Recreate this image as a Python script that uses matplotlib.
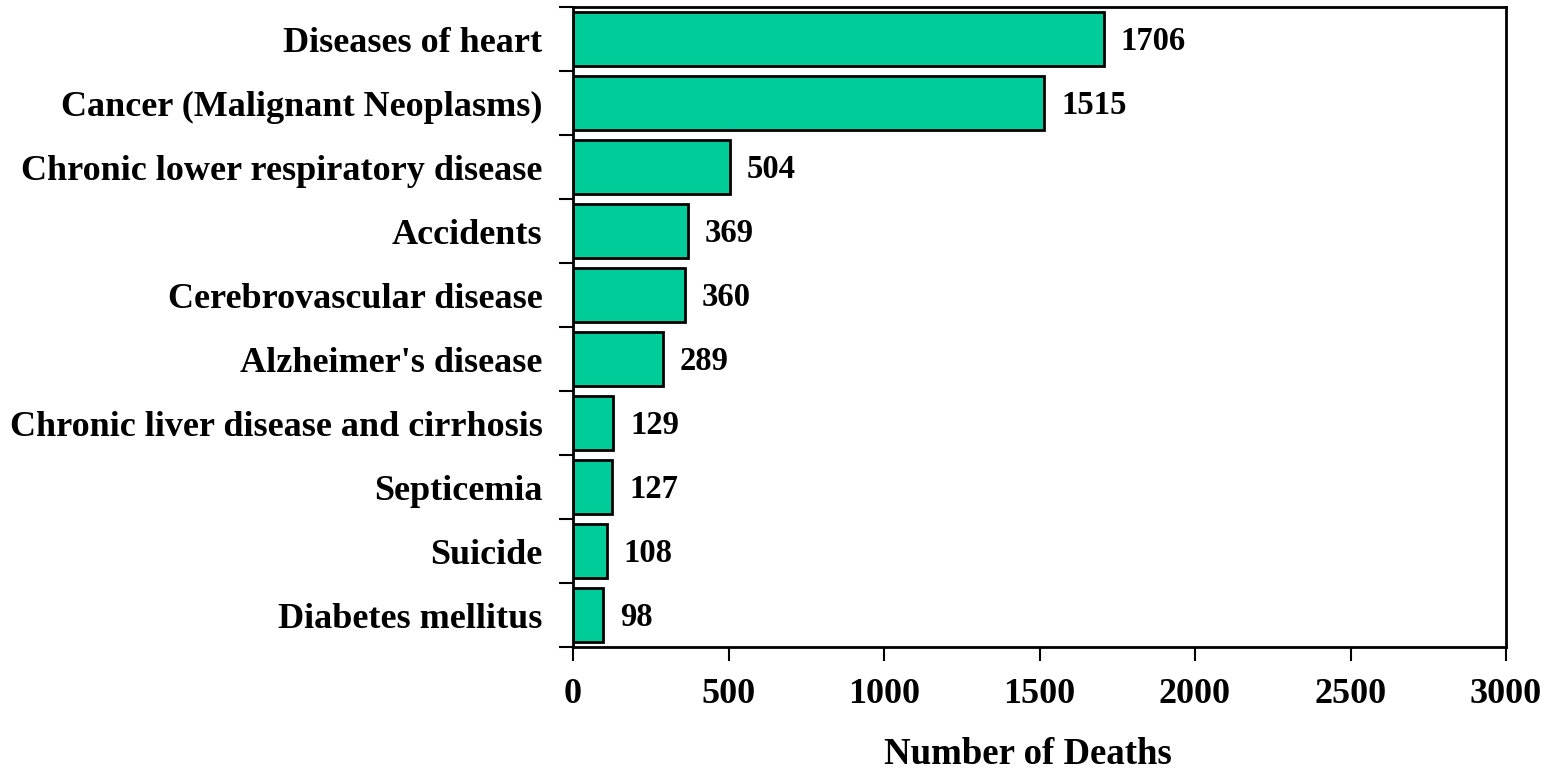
import matplotlib
matplotlib.use("Agg")
import matplotlib.pyplot as plt
from matplotlib.ticker import FixedLocator, NullFormatter

categories = ["Diseases of heart", "Cancer (Malignant Neoplasms)",
              "Chronic lower respiratory disease", "Accidents",
              "Cerebrovascular disease", "Alzheimer's disease",
              "Chronic liver disease and cirrhosis", "Septicemia",
              "Suicide", "Diabetes mellitus"]
deaths = [1706, 1515, 504, 369, 360, 289, 129, 127, 108, 98]
xticks = [0, 500, 1000, 1500, 2000, 2500, 3000]

plt.rcParams['font.family'] = ['Liberation Serif', 'DejaVu Serif']
plt.rcParams['font.weight'] = 'bold'

W, H = 1562, 772
fig = plt.figure(figsize=(W / 100, H / 100), dpi=100)
ax = fig.add_axes([573/W, 1-647/H, (1506-573)/W, (647-7)/H])

n = len(categories)
ypos = list(range(n))
ax.barh(ypos, deaths, height=0.83, color="#00CC99", edgecolor="black", linewidth=2)
ax.set_ylim(n - 0.5, -0.5)
ax.set_xlim(0, 3000)

ax.set_yticks(ypos)
ax.set_yticklabels(categories, fontsize=26, fontweight='bold')
ax.tick_params(axis='y', which='major', length=0, pad=22)
ax.yaxis.set_minor_locator(FixedLocator([i - 0.5 for i in range(n + 1)]))
ax.yaxis.set_minor_formatter(NullFormatter())
ax.tick_params(axis='y', which='minor', length=10, width=1.5, direction='out')

ax.set_xticks(xticks)
ax.set_xticklabels([str(t) for t in xticks], fontsize=26, fontweight='bold')
ax.tick_params(axis='x', length=10, width=1.5, direction='out', pad=12)

for s in ax.spines.values():
    s.set_linewidth(2)

for y, v in zip(ypos, deaths):
    ax.annotate(str(v), xy=(v, y), xytext=(17, -3), textcoords='offset pixels',
                va='center', ha='left', fontsize=23.5, fontweight='bold')

fig.text(1028/W, 1 - 764/H, "Number of Deaths", fontsize=26.5, fontweight='bold',
         ha='center', va='baseline')

fig.savefig("out.png", dpi=100)
